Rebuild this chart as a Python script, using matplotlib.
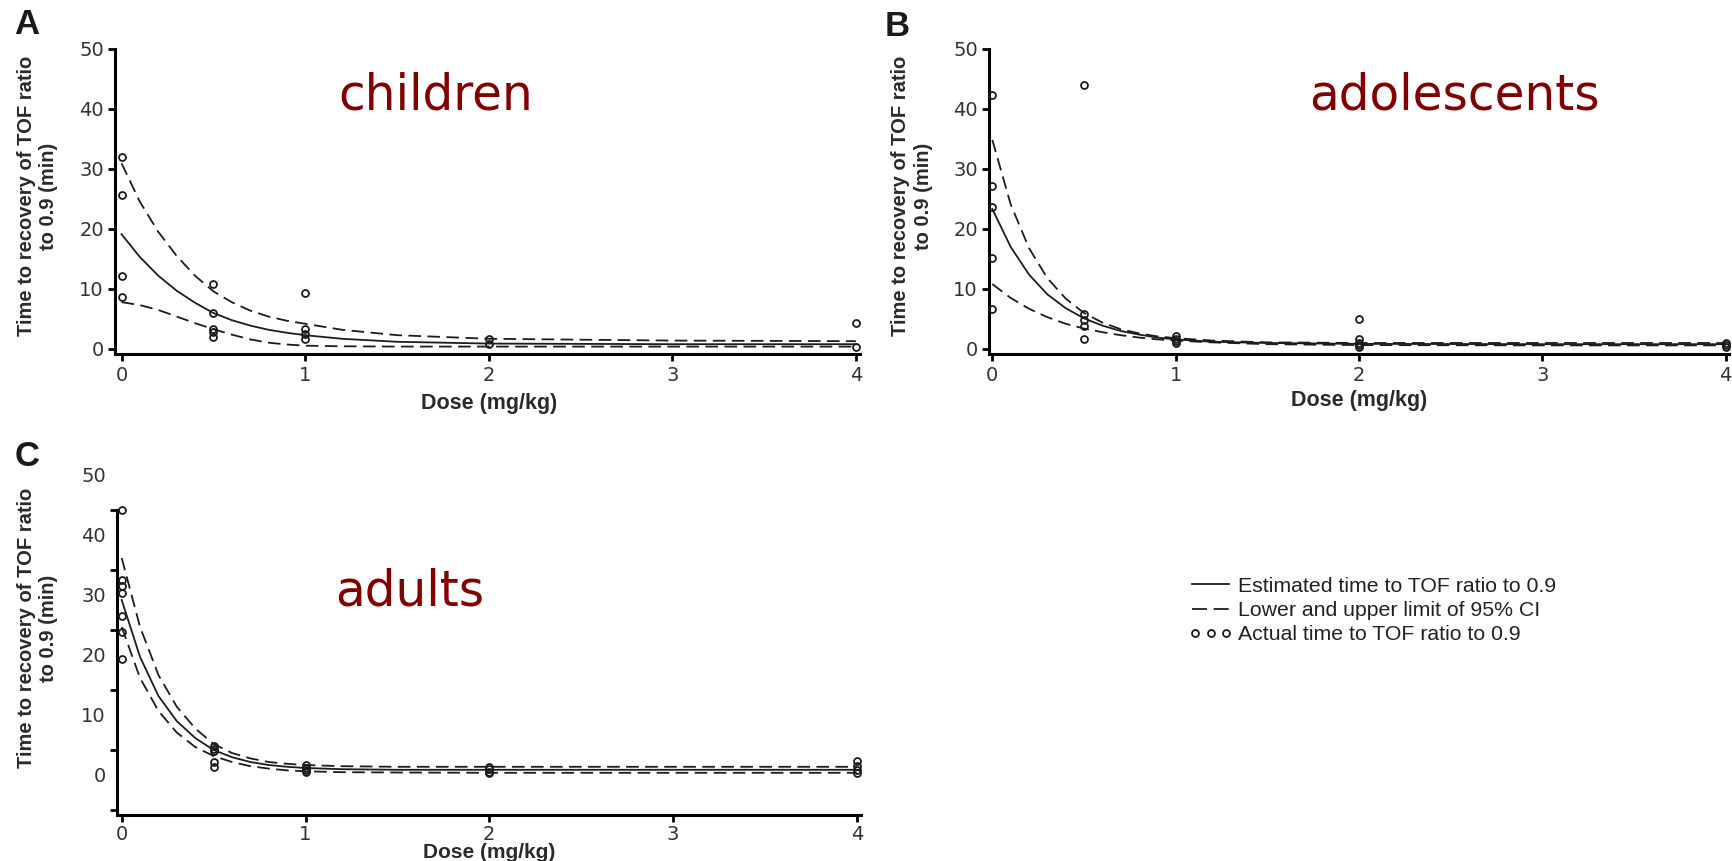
import matplotlib
matplotlib.use("Agg")
import matplotlib.pyplot as plt
from matplotlib.lines import Line2D
from matplotlib.legend_handler import HandlerLine2D

plt.rcParams['font.family'] = ['Liberation Sans', 'DejaVu Sans']
plt.rcParams['lines.scale_dashes'] = False

# ---------------- data ----------------
dose_grid = [0, 0.1, 0.2, 0.3, 0.4, 0.5, 0.6, 0.7, 0.8, 0.9, 1.0, 1.2, 1.5, 2.0, 3.0, 4.0]

# children
est_children = [19.1, 15.3, 12.2, 9.7, 7.7, 6.0, 4.8, 3.9, 3.2, 2.7, 2.3, 1.7, 1.2, 0.9, 0.8, 0.8]
upper_children = [30.9, 24.5, 19.5, 15.5, 12.2, 9.6, 7.8, 6.4, 5.4, 4.7, 4.2, 3.2, 2.3, 1.7, 1.4, 1.3]
lower_children = [7.8, 7.3, 6.5, 5.4, 4.3, 3.3, 2.4, 1.6, 1.05, 0.75, 0.55, 0.45, 0.4, 0.4, 0.4, 0.4]
child_x = [0, 0, 0, 0, 0.5, 0.5, 0.5, 0.5, 0.5, 1, 1, 1, 1, 2, 2, 4, 4]
child_y = [31.9, 25.6, 12.2, 8.7, 10.8, 6.0, 3.4, 2.8, 2.0, 9.3, 3.3, 2.5, 1.6, 1.6, 0.9, 4.3, 0.3]

# adolescents
est_adol = [23.3, 17.0, 12.4, 9.1, 6.8, 5.1, 3.9, 3.0, 2.4, 1.9, 1.6, 1.2, 1.0, 0.85, 0.8, 0.8]
upper_adol = [34.8, 24.1, 16.8, 11.8, 8.4, 6.0, 4.4, 3.3, 2.6, 2.1, 1.8, 1.4, 1.1, 1.0, 1.0, 1.0]
lower_adol = [10.8, 8.5, 6.7, 5.3, 4.2, 3.4, 2.8, 2.3, 1.9, 1.6, 1.4, 1.1, 0.8, 0.65, 0.6, 0.6]
adol_x = [0, 0, 0, 0, 0, 0.5, 0.5, 0.5, 0.5, 0.5, 1, 1, 1, 1, 2, 2, 2, 2, 2, 4, 4, 4]
adol_y = [42.3, 27.2, 23.7, 15.1, 6.6, 43.9, 5.9, 4.8, 3.9, 1.7, 2.2, 1.7, 1.3, 1.0,
          5.0, 1.7, 1.0, 0.6, 0.3, 1.0, 0.6, 0.3]

# adults
est_adults = [29.0, 19.5, 13.0, 8.8, 6.0, 4.0, 2.8, 2.0, 1.5, 1.2, 1.0, 0.8, 0.7, 0.7, 0.7, 0.7]
upper_adults = [36.0, 24.5, 16.5, 11.2, 7.6, 5.0, 3.5, 2.6, 2.0, 1.7, 1.5, 1.3, 1.2, 1.2, 1.2, 1.2]
lower_adults = [24.5, 16.0, 10.5, 6.9, 4.5, 3.0, 2.0, 1.3, 0.9, 0.6, 0.45, 0.3, 0.25, 0.2, 0.2, 0.2]
adult_x = [0, 0, 0, 0, 0, 0, 0, 0.5, 0.5, 0.5, 0.5, 0.5, 1, 1, 1, 1, 2, 2, 2, 2, 4, 4, 4, 4]
adult_y = [44.0, 32.4, 31.4, 30.2, 26.3, 23.6, 19.2, 4.6, 4.2, 3.8, 2.0, 1.1,
           1.5, 1.0, 0.6, 0.3, 1.2, 0.8, 0.4, 0.1, 2.1, 1.4, 0.6, 0.2]

x_ticks = [0, 1, 2, 3, 4]
y_ticks = [0, 10, 20, 30, 40, 50]
c_tick_marks = [44, 34, 24, 14, 4, -6]

group_names = ["children", "adolescents", "adults"]
panel_letters = ["A", "B", "C"]
ylabel_text = "Time to recovery of TOF ratio\nto 0.9 (min)"
xlabel_text = "Dose (mg/kg)"
legend_labels = ["Estimated time to TOF ratio to 0.9",
                 "Lower and upper limit of 95% CI",
                 "Actual time to TOF ratio to 0.9"]

# ---------------- figure ----------------
W, H = 1733, 861
fig = plt.figure(figsize=(W / 100, H / 100), dpi=100)
fig.patch.set_facecolor("white")


def px_axes(left, right, top, bottom):
    return fig.add_axes([left / W, 1 - bottom / H, (right - left) / W, (bottom - top) / H])


INK = "#1c1c1c"
DASH = (0, (9.1, 4.6))
LEG_DASH = (0, (10.8, 4.8))
LW = 1.3


def draw_panel(ax, est, up, lo, px, py, xlim, ylim, tick_pad):
    ax.set_xlim(*xlim)
    ax.set_ylim(*ylim)
    ax.plot(dose_grid, est, "-", color=INK, lw=LW)
    ax.plot(dose_grid, up, linestyle=DASH, color=INK, lw=LW)
    ax.plot(dose_grid, lo, linestyle=DASH, color=INK, lw=LW)
    ax.plot(px, py, "o", ms=5, mfc="none", mec=INK, mew=1.3, clip_on=False, zorder=4)
    for s in ("top", "right"):
        ax.spines[s].set_visible(False)
    for s in ("left", "bottom"):
        ax.spines[s].set_linewidth(2.2)
        ax.spines[s].set_color("black")
    ax.set_xticks(x_ticks)
    ax.set_yticks(y_ticks)
    ax.tick_params(axis="both", which="major", length=5, width=2.0, color="black",
                   labelsize=14, labelcolor="#333333")
    ax.tick_params(axis="x", pad=tick_pad)
    ax.tick_params(axis="y", pad=3)
    for lab in ax.get_xticklabels() + ax.get_yticklabels():
        lab.set_family("DejaVu Sans")


# Panel A
axA = px_axes(115.1, 859.6, 48.5, 353.8)
draw_panel(axA, est_children, upper_children, lower_children, child_x, child_y,
           (-0.035, 4.02), (-0.8, 50), 3.5)

# Panel B
axB = px_axes(989.0, 1729.2, 48.5, 353.8)
draw_panel(axB, est_adol, upper_adol, lower_adol, adol_x, adol_y,
           (-0.018, 4.02), (-0.8, 50), 3.5)

# Panel C (tick marks offset from labels, as in the source)
axC = px_axes(117.1, 860.6, 471.0, 814.8)
draw_panel(axC, est_adults, upper_adults, lower_adults, adult_x, adult_y,
           (-0.025, 4.02), (-6.8, 50.5), 2.0)
axC.spines["left"].set_bounds(-6.8, 44)
axC.tick_params(axis="y", which="major", length=0, pad=8)
axC.set_yticks(c_tick_marks, minor=True)
axC.tick_params(axis="y", which="minor", length=5, width=2.0, color="black")

# y labels
for cx, cy in [(37.5, 196), (912, 196), (37.5, 628)]:
    fig.text(cx / W, 1 - cy / H, ylabel_text, rotation=90, ha="center", va="center",
             multialignment="center", fontsize=14.5, fontweight="bold",
             color="#2a2a2a", linespacing=1.25)

# x labels
for (cx, cy), fs in zip([(489, 404), (1359, 401), (489.5, 853)], [15.5, 15.5, 15]):
    fig.text(cx / W, 1 - cy / H, xlabel_text, ha="center", va="center",
             fontsize=fs, fontweight="bold", color="#2a2a2a")

# panel letters
for (cx, cy), letter in zip([(27, 25), (897.5, 27), (27, 457)], panel_letters):
    fig.text(cx / W, 1 - cy / H, letter, ha="center", va="center",
             fontsize=25, fontweight="bold", color="#1a1a1a")

# group annotations
for (cx, by), name in zip([(436, 110), (1454, 110), (410, 605)], group_names):
    fig.text(cx / W, 1 - by / H, name, ha="center", va="baseline",
             fontsize=35, color="#800000", family="DejaVu Sans")

# legend
h_est = Line2D([], [], color=INK, lw=LW, linestyle="-")
h_ci = Line2D([], [], color=INK, lw=LW, linestyle=LEG_DASH)
h_obs = Line2D([], [], linestyle="none", marker="o", ms=5, mfc="none", mec=INK, mew=1.3)
leg = fig.legend([h_est, h_ci, h_obs], legend_labels, loc="center left",
                 bbox_to_anchor=(1192.5 / W, 1 - 610.5 / H),
                 frameon=False, fontsize=15.3, handlelength=1.7, handletextpad=0.45,
                 labelspacing=0.24, borderpad=0, borderaxespad=0,
                 handler_map={h_est: HandlerLine2D(numpoints=1),
                              h_ci: HandlerLine2D(numpoints=1),
                              h_obs: HandlerLine2D(numpoints=3, marker_pad=0.12)})
for t in leg.get_texts():
    t.set_color("#222222")

fig.savefig("out.png", dpi=100, facecolor="white")
